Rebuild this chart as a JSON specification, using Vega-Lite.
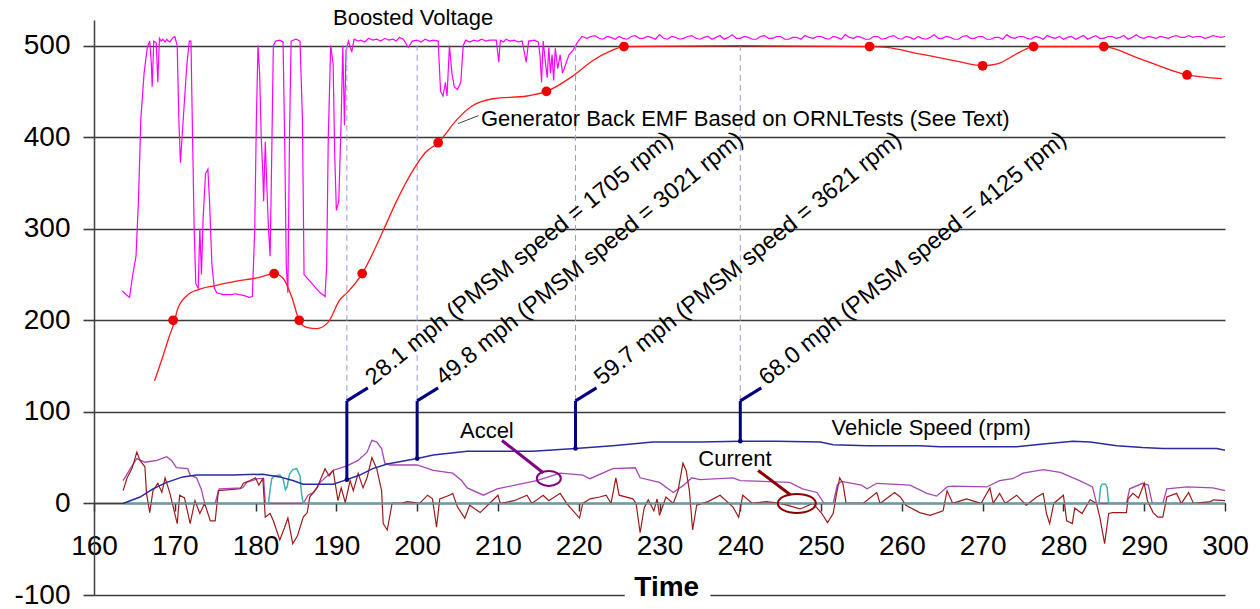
{
  "$schema": "https://vega.github.io/schema/vega-lite/v6.json",
  "width": 1131,
  "height": 575,
  "autosize": {"type": "none"},
  "padding": {"left": 94, "top": 20, "right": 35, "bottom": 14},
  "background": "white",
  "config": {"view": {"stroke": null}, "font": "Liberation Sans", "text": {"font": "Liberation Sans", "color": "black"}},
  "datasets": {
    "one": [{}],
    "bv": [
      {"t":163.5,"v":232},{"t":164.0,"v":228},{"t":164.4,"v":225},{"t":164.8,"v":250},{"t":165.2,"v":270},{"t":165.5,"v":330},{"t":165.8,"v":420},{"t":166.2,"v":470},{"t":166.6,"v":498},{"t":166.9,"v":505},{"t":167.1,"v":480},{"t":167.2,"v":455},{"t":167.4,"v":505},{"t":167.7,"v":503},{"t":167.9,"v":460},{"t":168.1,"v":508},{"t":168.3,"v":505},{"t":168.5,"v":507},{"t":168.8,"v":504},{"t":169.0,"v":507},{"t":169.2,"v":505},{"t":169.4,"v":504},{"t":169.7,"v":508},{"t":170.0,"v":510},{"t":170.3,"v":500},{"t":170.5,"v":420},{"t":170.7,"v":372},{"t":170.9,"v":400},{"t":171.2,"v":440},{"t":171.5,"v":480},{"t":171.8,"v":505},{"t":172.0,"v":505},{"t":172.2,"v":400},{"t":172.4,"v":300},{"t":172.6,"v":240},{"t":172.9,"v":235},{"t":173.1,"v":300},{"t":173.3,"v":250},{"t":173.5,"v":310},{"t":173.8,"v":360},{"t":174.1,"v":365},{"t":174.3,"v":330},{"t":174.6,"v":260},{"t":174.9,"v":235},{"t":175.2,"v":230},{"t":176.0,"v":228},{"t":177.0,"v":228},{"t":177.5,"v":229},{"t":178.0,"v":228},{"t":178.6,"v":227},{"t":179.2,"v":225},{"t":179.6,"v":226},{"t":179.9,"v":300},{"t":180.1,"v":420},{"t":180.3,"v":500},{"t":180.5,"v":470},{"t":180.7,"v":400},{"t":180.9,"v":360},{"t":181.0,"v":330},{"t":181.2,"v":395},{"t":181.4,"v":345},{"t":181.6,"v":300},{"t":181.8,"v":270},{"t":182.0,"v":380},{"t":182.2,"v":500},{"t":182.5,"v":505},{"t":183.0,"v":506},{"t":183.4,"v":504},{"t":183.6,"v":400},{"t":183.8,"v":260},{"t":184.0,"v":230},{"t":184.2,"v":400},{"t":184.4,"v":505},{"t":185.0,"v":507},{"t":185.5,"v":505},{"t":185.8,"v":420},{"t":186.0,"v":250},{"t":186.5,"v":245},{"t":187.0,"v":240},{"t":187.5,"v":235},{"t":188.0,"v":230},{"t":188.6,"v":226},{"t":188.8,"v":260},{"t":189.0,"v":400},{"t":189.3,"v":500},{"t":189.6,"v":480},{"t":189.8,"v":380},{"t":190.0,"v":320},{"t":190.3,"v":330},{"t":190.6,"v":420},{"t":190.8,"v":500},{"t":191.0,"v":413},{"t":191.2,"v":495},{"t":191.5,"v":505},{"t":191.9,"v":493},{"t":192.2,"v":507},{"t":192.7,"v":505},{"t":193,"v":506},{"t":193.5,"v":504},{"t":194,"v":508},{"t":194.5,"v":506},{"t":195,"v":507},{"t":195.5,"v":505},{"t":196,"v":508},{"t":196.5,"v":506},{"t":197,"v":507},{"t":197.4,"v":505},{"t":197.8,"v":509},{"t":198.3,"v":507},{"t":198.9,"v":498},{"t":199.4,"v":505},{"t":200,"v":506},{"t":200.5,"v":504},{"t":201,"v":507},{"t":201.5,"v":505},{"t":202,"v":506},{"t":202.6,"v":505},{"t":202.9,"v":450},{"t":203.2,"v":445},{"t":203.5,"v":460},{"t":203.7,"v":445},{"t":204.0,"v":500},{"t":204.3,"v":470},{"t":204.6,"v":455},{"t":205.0,"v":452},{"t":205.4,"v":460},{"t":205.7,"v":500},{"t":206,"v":506},{"t":206.5,"v":504},{"t":207,"v":506},{"t":207.5,"v":505},{"t":208,"v":507},{"t":208.5,"v":505},{"t":209,"v":506},{"t":209.8,"v":506},{"t":210.1,"v":482},{"t":210.3,"v":506},{"t":210.7,"v":504},{"t":211,"v":507},{"t":211.5,"v":505},{"t":212,"v":506},{"t":212.5,"v":504},{"t":213,"v":505},{"t":213.5,"v":482},{"t":213.8,"v":505},{"t":214.5,"v":506},{"t":215.0,"v":504},{"t":215.2,"v":490},{"t":215.4,"v":460},{"t":215.6,"v":505},{"t":215.9,"v":480},{"t":216.1,"v":465},{"t":216.3,"v":498},{"t":216.5,"v":470},{"t":216.7,"v":490},{"t":216.9,"v":462},{"t":217.1,"v":497},{"t":217.4,"v":475},{"t":217.7,"v":490},{"t":218.0,"v":470},{"t":218.4,"v":480},{"t":218.8,"v":490},{"t":219.3,"v":495},{"t":219.8,"v":503},{"t":220.4,"v":510},
      {"t":221,"v":508},{"t":221.5,"v":510},{"t":222,"v":511},{"t":222.5,"v":508},{"t":223,"v":507},{"t":223.5,"v":510},{"t":224,"v":509},{"t":224.5,"v":507},{"t":225,"v":510},{"t":225.5,"v":508},{"t":226,"v":507},{"t":226.5,"v":510},{"t":227,"v":511},{"t":227.5,"v":508},{"t":228,"v":508},{"t":228.5,"v":510},{"t":229,"v":509},{"t":229.5,"v":507},{"t":230,"v":512},{"t":230.5,"v":508},{"t":231,"v":507},{"t":231.5,"v":510},{"t":232,"v":509},{"t":232.5,"v":507},{"t":233,"v":508},{"t":233.5,"v":510},{"t":234,"v":511},{"t":234.5,"v":508},{"t":235,"v":507},{"t":235.5,"v":509},{"t":236,"v":510},{"t":236.5,"v":507},{"t":237,"v":509},{"t":237.5,"v":511},{"t":238,"v":507},{"t":238.5,"v":509},{"t":239,"v":512},{"t":239.5,"v":508},{"t":240,"v":508},{"t":240.5,"v":510},{"t":241,"v":509},{"t":241.5,"v":507},{"t":242,"v":507},{"t":242.5,"v":510},{"t":243,"v":511},{"t":243.5,"v":508},{"t":244,"v":508},{"t":244.5,"v":510},{"t":245,"v":510},{"t":245.5,"v":507},{"t":246,"v":507},{"t":246.5,"v":509},{"t":247,"v":509},{"t":247.5,"v":507},{"t":248,"v":511},{"t":248.5,"v":509},{"t":249,"v":508},{"t":249.5,"v":510},{"t":250,"v":510},{"t":250.5,"v":508},{"t":251,"v":507},{"t":251.5,"v":510},{"t":252,"v":509},{"t":252.5,"v":507},{"t":253,"v":512},{"t":253.5,"v":509},{"t":254,"v":508},{"t":254.5,"v":510},{"t":255,"v":509},{"t":255.5,"v":507},{"t":256,"v":507},{"t":256.5,"v":510},{"t":257,"v":510},{"t":257.5,"v":507},{"t":258,"v":508},{"t":258.5,"v":510},{"t":259,"v":511},{"t":259.5,"v":508},{"t":260,"v":507},{"t":260.5,"v":510},{"t":261,"v":509},{"t":261.5,"v":507},{"t":262,"v":510},{"t":262.5,"v":508},{"t":263,"v":507},{"t":263.5,"v":509},{"t":264,"v":512},{"t":264.5,"v":508},{"t":265,"v":508},{"t":265.5,"v":510},{"t":266,"v":509},{"t":266.5,"v":507},{"t":267,"v":507},{"t":267.5,"v":510},{"t":268,"v":511},{"t":268.5,"v":508},{"t":269,"v":508},{"t":269.5,"v":510},{"t":270,"v":510},{"t":270.5,"v":507},{"t":271,"v":507},{"t":271.5,"v":509},{"t":272,"v":509},{"t":272.5,"v":507},{"t":273,"v":512},{"t":273.5,"v":509},{"t":274,"v":508},{"t":274.5,"v":510},{"t":275,"v":510},{"t":275.5,"v":508},{"t":276,"v":507},{"t":276.5,"v":510},{"t":277,"v":509},{"t":277.5,"v":507},{"t":278,"v":511},{"t":278.5,"v":509},{"t":279,"v":508},{"t":279.5,"v":510},{"t":280,"v":507},{"t":280.5,"v":509},{"t":281,"v":510},{"t":281.5,"v":507},{"t":282,"v":509},{"t":282.5,"v":511},{"t":283,"v":507},{"t":283.5,"v":509},{"t":284,"v":511},{"t":284.5,"v":508},{"t":285,"v":508},{"t":285.5,"v":510},{"t":286,"v":510},{"t":286.5,"v":508},{"t":287,"v":509},{"t":287.5,"v":511},{"t":288,"v":507},{"t":288.5,"v":509},{"t":289,"v":512},{"t":289.5,"v":509},{"t":290,"v":508},{"t":290.5,"v":510},{"t":291,"v":509},{"t":291.5,"v":508},{"t":292,"v":510},{"t":292.5,"v":509},{"t":293,"v":508},{"t":293.5,"v":510},{"t":294,"v":511},{"t":294.5,"v":509},{"t":295,"v":509},{"t":295.5,"v":511},{"t":296,"v":509},{"t":296.5,"v":510},{"t":297,"v":510},{"t":297.5,"v":508},{"t":298,"v":509},{"t":298.5,"v":511},{"t":299,"v":510},{"t":299.5,"v":509},{"t":300,"v":510}
    ],
    "emf": [
      {"t":167.5,"v":134},{"t":168.5,"v":160},{"t":169.3,"v":182},{"t":170,"v":200},{"t":170.3,"v":211},{"t":171.5,"v":227},{"t":173.1,"v":234},{"t":175,"v":238},{"t":177.2,"v":242},{"t":180.5,"v":247},{"t":182.3,"v":251},{"t":183.3,"v":247},{"t":184.5,"v":225},{"t":185.4,"v":200},{"t":186.4,"v":192},{"t":187.6,"v":191},{"t":189,"v":198},{"t":190.4,"v":222},{"t":191.3,"v":230},{"t":193.2,"v":251},{"t":194.5,"v":273},{"t":195.8,"v":298},{"t":197.5,"v":331},{"t":199.5,"v":364},{"t":201,"v":383},{"t":202.6,"v":394},{"t":205,"v":420},{"t":206.8,"v":434},{"t":209.4,"v":442},{"t":213.6,"v":445},{"t":216,"v":450},{"t":219.3,"v":467},{"t":221.8,"v":484},{"t":223.9,"v":494},{"t":225.6,"v":499},{"t":240,"v":500},{"t":256,"v":499},{"t":258.1,"v":498},{"t":262.2,"v":491},{"t":266.3,"v":484},{"t":270,"v":478},{"t":271.8,"v":480},{"t":274.6,"v":493},{"t":276.3,"v":499},{"t":285,"v":499},{"t":289.1,"v":487},{"t":295.3,"v":468},{"t":299.6,"v":464}
    ],
    "emfDots": [
      {"t":169.8,"v":200},{"t":182.3,"v":251},{"t":185.4,"v":200},{"t":193.2,"v":251},{"t":202.6,"v":394},{"t":216,"v":450},{"t":225.6,"v":499},{"t":256,"v":499},{"t":270,"v":478},{"t":276.3,"v":499},{"t":285,"v":499},{"t":295.3,"v":468}
    ],
    "speed": [
      {"t":163.6,"v":0},{"t":165.7,"v":7},{"t":167.3,"v":16},{"t":169,"v":23},{"t":171,"v":29},{"t":172.7,"v":31},{"t":177.2,"v":31},{"t":180.9,"v":32},{"t":183,"v":29},{"t":184.6,"v":25},{"t":185.9,"v":21},{"t":189.6,"v":21},{"t":191.3,"v":26},{"t":192.9,"v":31},{"t":194.5,"v":38},{"t":196.3,"v":43},{"t":200,"v":49},{"t":202,"v":53},{"t":206.2,"v":57},{"t":210.2,"v":57},{"t":214.3,"v":57},{"t":219.6,"v":60},{"t":224.2,"v":63},{"t":229.2,"v":67},{"t":235,"v":67},{"t":240,"v":68},{"t":244.5,"v":68},{"t":249.9,"v":67},{"t":251.5,"v":64},{"t":255.7,"v":63},{"t":262.2,"v":63},{"t":264.7,"v":62},{"t":274.2,"v":62},{"t":277.5,"v":65},{"t":281.2,"v":68},{"t":283.3,"v":67},{"t":286.6,"v":63},{"t":289.8,"v":61},{"t":292.3,"v":60},{"t":299,"v":60},{"t":300,"v":58}
    ],
    "accel": [
      {"t":163.6,"v":25},{"t":164.5,"v":38},{"t":165.3,"v":49},{"t":166.3,"v":45},{"t":167.8,"v":47},{"t":169,"v":51},{"t":169.6,"v":47},{"t":170.2,"v":39},{"t":171.6,"v":38},{"t":171.9,"v":31},{"t":172.7,"v":28},{"t":173.3,"v":15},{"t":173.7,"v":0},{"t":175,"v":0},{"t":175.3,"v":10},{"t":175.5,"v":16},{"t":178.4,"v":17},{"t":178.9,"v":23},{"t":180.3,"v":27},{"t":181,"v":27},{"t":181.2,"v":0},{"t":185.9,"v":0},{"t":186.5,"v":9},{"t":187.2,"v":12},{"t":188,"v":23},{"t":189.6,"v":36},{"t":191.3,"v":41},{"t":192.7,"v":47},{"t":193.8,"v":56},{"t":194.4,"v":69},{"t":195,"v":67},{"t":195.6,"v":60},{"t":196,"v":44},{"t":196.6,"v":42},{"t":200,"v":42},{"t":202,"v":36},{"t":204.4,"v":33},{"t":205.5,"v":25},{"t":206.2,"v":17},{"t":208.2,"v":9},{"t":209.9,"v":16},{"t":212.7,"v":21},{"t":214.8,"v":25},{"t":217.7,"v":33},{"t":220.5,"v":31},{"t":221.4,"v":27},{"t":224.2,"v":38},{"t":227,"v":39},{"t":227.6,"v":28},{"t":230,"v":23},{"t":231.7,"v":12},{"t":233,"v":20},{"t":234,"v":28},{"t":235,"v":26},{"t":239.1,"v":28},{"t":240,"v":25},{"t":246.1,"v":23},{"t":247.7,"v":16},{"t":249.5,"v":12},{"t":250.3,"v":1},{"t":250.5,"v":0},{"t":251.5,"v":0},{"t":252,"v":20},{"t":252.5,"v":24},{"t":255,"v":20},{"t":255.7,"v":16},{"t":256.9,"v":22},{"t":261,"v":20},{"t":263.1,"v":11},{"t":264.3,"v":8},{"t":265.6,"v":18},{"t":266.3,"v":19},{"t":270.5,"v":18},{"t":272.1,"v":25},{"t":273.7,"v":27},{"t":275,"v":33},{"t":277.5,"v":37},{"t":279.6,"v":34},{"t":282,"v":25},{"t":283.6,"v":18},{"t":284.1,"v":0},{"t":287.8,"v":0},{"t":288.2,"v":16},{"t":289.8,"v":22},{"t":290.5,"v":20},{"t":291,"v":0},{"t":292.3,"v":0},{"t":292.8,"v":16},{"t":295.3,"v":18},{"t":298.5,"v":17},{"t":300,"v":14}
    ],
    "current": [
      {"t":163.6,"v":14},{"t":164.1,"v":28},{"t":164.7,"v":38},{"t":165.3,"v":56},{"t":165.7,"v":47},{"t":166.3,"v":40},{"t":166.5,"v":11},{"t":166.9,"v":-10},{"t":167.3,"v":14},{"t":167.9,"v":22},{"t":168.4,"v":12},{"t":168.8,"v":28},{"t":169.4,"v":11},{"t":170.3,"v":-22},{"t":170.6,"v":9},{"t":171.2,"v":6},{"t":171.9,"v":-22},{"t":172.5,"v":3},{"t":173.1,"v":-11},{"t":173.7,"v":0},{"t":174.4,"v":-19},{"t":175,"v":-19},{"t":175.4,"v":14},{"t":178.1,"v":16},{"t":178.5,"v":22},{"t":179.3,"v":25},{"t":180,"v":28},{"t":180.4,"v":20},{"t":180.9,"v":27},{"t":181.2,"v":-15},{"t":181.8,"v":-11},{"t":182.2,"v":-19},{"t":183,"v":-40},{"t":183.6,"v":-26},{"t":184,"v":-16},{"t":184.6,"v":-44},{"t":185.2,"v":-35},{"t":185.9,"v":-15},{"t":186.4,"v":-10},{"t":186.7,"v":7},{"t":187.6,"v":17},{"t":188.6,"v":38},{"t":189.1,"v":30},{"t":189.6,"v":36},{"t":190.2,"v":3},{"t":190.6,"v":17},{"t":191.1,"v":1},{"t":191.7,"v":25},{"t":192.1,"v":14},{"t":192.7,"v":33},{"t":193.3,"v":17},{"t":193.8,"v":28},{"t":194.4,"v":50},{"t":195,"v":38},{"t":195.6,"v":14},{"t":195.8,"v":-22},{"t":196.3,"v":-29},{"t":196.9,"v":0},{"t":198,"v":0},{"t":198.8,"v":2},{"t":200.3,"v":0},{"t":201.3,"v":9},{"t":201.9,"v":5},{"t":202.4,"v":-26},{"t":202.8,"v":5},{"t":204,"v":9},{"t":204.4,"v":11},{"t":205,"v":-4},{"t":205.9,"v":-16},{"t":206.5,"v":-2},{"t":207.8,"v":-10},{"t":210,"v":9},{"t":210.3,"v":0},{"t":212,"v":3},{"t":213.6,"v":9},{"t":214.2,"v":0},{"t":215.6,"v":9},{"t":216.3,"v":3},{"t":217.7,"v":11},{"t":218.5,"v":0},{"t":220.1,"v":-16},{"t":220.5,"v":0},{"t":221.4,"v":5},{"t":222.6,"v":7},{"t":223.4,"v":9},{"t":224,"v":0},{"t":224.6,"v":28},{"t":225,"v":9},{"t":226.7,"v":5},{"t":227.1,"v":0},{"t":227.6,"v":-32},{"t":228.1,"v":-5},{"t":228.6,"v":4},{"t":229.3,"v":-8},{"t":229.7,"v":5},{"t":230,"v":-13},{"t":230.8,"v":7},{"t":231.7,"v":0},{"t":232.3,"v":14},{"t":232.9,"v":44},{"t":233.3,"v":36},{"t":233.7,"v":14},{"t":234.1,"v":-29},{"t":234.6,"v":-2},{"t":236,"v":2},{"t":237.5,"v":9},{"t":239.1,"v":-4},{"t":239.8,"v":-15},{"t":240.3,"v":9},{"t":241.5,"v":0},{"t":243.2,"v":2},{"t":245,"v":0},{"t":247.4,"v":-6},{"t":249,"v":0},{"t":250.1,"v":-11},{"t":250.8,"v":-21},{"t":251.5,"v":-11},{"t":251.9,"v":10},{"t":252.3,"v":28},{"t":252.7,"v":22},{"t":253.1,"v":0},{"t":255.2,"v":0},{"t":256.9,"v":12},{"t":257.3,"v":0},{"t":259.1,"v":12},{"t":259.8,"v":7},{"t":260.5,"v":-2},{"t":262.2,"v":-10},{"t":263.5,"v":-13},{"t":265.1,"v":-8},{"t":265.6,"v":14},{"t":266.3,"v":0},{"t":268,"v":5},{"t":269.8,"v":0},{"t":270.9,"v":17},{"t":271.3,"v":0},{"t":272.1,"v":11},{"t":272.8,"v":0},{"t":274.2,"v":9},{"t":275.4,"v":-2},{"t":276.7,"v":7},{"t":277.5,"v":11},{"t":277.9,"v":-11},{"t":278.3,"v":-22},{"t":278.8,"v":0},{"t":280,"v":9},{"t":280.4,"v":-19},{"t":281.1,"v":-22},{"t":281.4,"v":-5},{"t":282.3,"v":-11},{"t":283.3,"v":4},{"t":284.1,"v":0},{"t":284.5,"v":-15},{"t":285.1,"v":-44},{"t":285.6,"v":-11},{"t":286.1,"v":-10},{"t":287.8,"v":-10},{"t":288,"v":5},{"t":288.6,"v":11},{"t":289.3,"v":6},{"t":290,"v":22},{"t":290.4,"v":3},{"t":291.1,"v":-10},{"t":291.7,"v":-15},{"t":292.3,"v":-15},{"t":292.8,"v":7},{"t":294,"v":11},{"t":294.6,"v":0},{"t":295.5,"v":12},{"t":296.1,"v":0},{"t":298.2,"v":2},{"t":298.6,"v":4},{"t":300,"v":3}
    ],
    "brake": [
      {"t":163.6,"v":0},{"t":181.6,"v":0},{"t":181.8,"v":15},{"t":182.0,"v":27},{"t":182.3,"v":30},{"t":183,"v":31},{"t":183.4,"v":27},{"t":183.7,"v":15},{"t":183.9,"v":18},{"t":184.2,"v":32},{"t":184.6,"v":37},{"t":185.1,"v":38},{"t":185.5,"v":30},{"t":185.7,"v":10},{"t":185.9,"v":0},{"t":284.4,"v":0},{"t":284.6,"v":18},{"t":284.8,"v":21},{"t":285.2,"v":21},{"t":285.4,"v":18},{"t":285.6,"v":0},{"t":300,"v":0}
    ],
    "markers": [
      {"t":191.3,"speed":26,"label":"28.1 mph (PMSM speed = 1705 rpm)"},
      {"t":200,"speed":49,"label":"49.8 mph (PMSM speed = 3021 rpm)"},
      {"t":219.6,"speed":60,"label":"59.7 mph (PMSM speed = 3621 rpm)"},
      {"t":240,"speed":68,"label":"68.0 mph (PMSM speed = 4125 rpm)"}
    ]
  },
  "layer": [
    {
      "data": {"name": "bv"},
      "mark": {"type": "line", "color": "#ff00ff", "strokeWidth": 1.2},
      "encoding": {
        "x": {"field": "t", "type": "quantitative", "scale": {"domain": [160, 300], "nice": false, "zero": false},
          "axis": {"title": null, "values": [160,170,180,190,200,210,220,230,240,250,260,270,280,290,300], "offset": -92, "grid": false, "domainColor": "#404040", "domainWidth": 1.5, "tickColor": "#333333", "tickSize": 8, "tickWidth": 1.5, "labelFontSize": 28, "labelFont": "Liberation Sans", "labelColor": "black", "labelPadding": 21, "labelFlush": false, "labelOverlap": false}},
        "y": {"field": "v", "type": "quantitative", "scale": {"domain": [-100, 528], "nice": false, "zero": false},
          "axis": {"title": null, "values": [-100,0,100,200,300,400,500], "labelExpr": "'' + datum.value", "grid": true, "gridColor": "#3a3a3a", "gridWidth": 1.6, "domainColor": "#404040", "domainWidth": 1.5, "tickColor": "#3a3a3a", "tickSize": 11, "tickWidth": 1.6, "labelFontSize": 28, "labelFont": "Liberation Sans", "labelColor": "black", "labelPadding": 13, "labelFlush": false, "labelOverlap": false}}
      }
    },
    {
      "data": {"name": "markers"},
      "mark": {"type": "rule", "color": "#9a9ae0", "strokeWidth": 1, "strokeDash": [6, 4]},
      "encoding": {
        "x": {"field": "t", "type": "quantitative", "scale": {"domain": [160, 300], "nice": false, "zero": false}},
        "y": {"datum": 112, "scale": {"domain": [-100, 528], "nice": false, "zero": false}},
        "y2": {"datum": 500}
      }
    },
    {
      "data": {"name": "emf"},
      "mark": {"type": "line", "color": "#ff1a1a", "strokeWidth": 1.3, "interpolate": "monotone"},
      "encoding": {
        "x": {"field": "t", "type": "quantitative", "scale": {"domain": [160, 300], "nice": false, "zero": false}},
        "y": {"field": "v", "type": "quantitative", "scale": {"domain": [-100, 528], "nice": false, "zero": false}}
      }
    },
    {
      "data": {"name": "emfDots"},
      "mark": {"type": "point", "filled": true, "color": "#ee0000", "size": 95, "opacity": 1},
      "encoding": {
        "x": {"field": "t", "type": "quantitative", "scale": {"domain": [160, 300], "nice": false, "zero": false}},
        "y": {"field": "v", "type": "quantitative", "scale": {"domain": [-100, 528], "nice": false, "zero": false}}
      }
    },
    {
      "data": {"name": "accel"},
      "mark": {"type": "line", "color": "#a548b5", "strokeWidth": 1.3},
      "encoding": {
        "x": {"field": "t", "type": "quantitative", "scale": {"domain": [160, 300], "nice": false, "zero": false}},
        "y": {"field": "v", "type": "quantitative", "scale": {"domain": [-100, 528], "nice": false, "zero": false}}
      }
    },
    {
      "data": {"name": "current"},
      "mark": {"type": "line", "color": "#9b1c1c", "strokeWidth": 1.2},
      "encoding": {
        "x": {"field": "t", "type": "quantitative", "scale": {"domain": [160, 300], "nice": false, "zero": false}},
        "y": {"field": "v", "type": "quantitative", "scale": {"domain": [-100, 528], "nice": false, "zero": false}}
      }
    },
    {
      "data": {"name": "brake"},
      "mark": {"type": "line", "color": "#40b0b0", "strokeWidth": 1.5},
      "encoding": {
        "x": {"field": "t", "type": "quantitative", "scale": {"domain": [160, 300], "nice": false, "zero": false}},
        "y": {"field": "v", "type": "quantitative", "scale": {"domain": [-100, 528], "nice": false, "zero": false}}
      }
    },
    {
      "data": {"name": "speed"},
      "mark": {"type": "line", "color": "#2b2ba0", "strokeWidth": 1.5},
      "encoding": {
        "x": {"field": "t", "type": "quantitative", "scale": {"domain": [160, 300], "nice": false, "zero": false}},
        "y": {"field": "v", "type": "quantitative", "scale": {"domain": [-100, 528], "nice": false, "zero": false}}
      }
    },
    {
      "data": {"name": "markers"},
      "mark": {"type": "rule", "color": "#000080", "strokeWidth": 3},
      "encoding": {
        "x": {"field": "t", "type": "quantitative", "scale": {"domain": [160, 300], "nice": false, "zero": false}},
        "y": {"field": "speed", "type": "quantitative", "scale": {"domain": [-100, 528], "nice": false, "zero": false}},
        "y2": {"datum": 112}
      }
    },
    {
      "data": {"name": "markers"},
      "mark": {"type": "point", "filled": true, "color": "#000080", "size": 22, "opacity": 1},
      "encoding": {
        "x": {"field": "t", "type": "quantitative", "scale": {"domain": [160, 300], "nice": false, "zero": false}},
        "y": {"field": "speed", "type": "quantitative", "scale": {"domain": [-100, 528], "nice": false, "zero": false}}
      }
    },
    {
      "data": {"name": "markers"},
      "mark": {"type": "point", "filled": false, "shape": "M 0 0 L 1 -0.62", "color": "#000080", "strokeWidth": 3, "size": 1764, "opacity": 1},
      "encoding": {
        "x": {"field": "t", "type": "quantitative", "scale": {"domain": [160, 300], "nice": false, "zero": false}},
        "y": {"datum": 112, "scale": {"domain": [-100, 528], "nice": false, "zero": false}}
      }
    },
    {
      "data": {"name": "markers"},
      "mark": {"type": "text", "angle": -39, "align": "left", "baseline": "alphabetic", "fontSize": 23.5, "dx": 30, "dy": 5, "color": "black"},
      "encoding": {
        "x": {"field": "t", "type": "quantitative", "scale": {"domain": [160, 300], "nice": false, "zero": false}},
        "y": {"datum": 112, "scale": {"domain": [-100, 528], "nice": false, "zero": false}},
        "text": {"field": "label"}
      }
    },
    {
      "data": {"name": "one"},
      "mark": {"type": "rule", "color": "#404040", "strokeWidth": 1},
      "encoding": {"x": {"datum": 205.05}, "x2": {"datum": 207.6}, "y": {"datum": 414.8}, "y2": {"datum": 423.6}}
    },
    {
      "data": {"name": "one"},
      "mark": {"type": "rule", "color": "#800080", "strokeWidth": 3},
      "encoding": {"x": {"datum": 210.5}, "x2": {"datum": 215.6}, "y": {"datum": 68.8}, "y2": {"datum": 33.5}}
    },
    {
      "data": {"name": "one"},
      "mark": {"type": "point", "filled": false, "shape": "M -1 0 A 1 0.62 0 1 1 1 0 A 1 0.62 0 1 1 -1 0 Z", "color": "#800080", "strokeWidth": 2, "size": 576, "opacity": 1},
      "encoding": {"x": {"datum": 216.3}, "y": {"datum": 27.3}}
    },
    {
      "data": {"name": "one"},
      "mark": {"type": "rule", "color": "#8b0000", "strokeWidth": 3},
      "encoding": {"x": {"datum": 242.2}, "x2": {"datum": 246.2}, "y": {"datum": 36}, "y2": {"datum": 9.5}}
    },
    {
      "data": {"name": "one"},
      "mark": {"type": "point", "filled": false, "shape": "M -1 0 A 1 0.5 0 1 1 1 0 A 1 0.5 0 1 1 -1 0 Z", "color": "#8b0000", "strokeWidth": 2, "size": 1444, "opacity": 1},
      "encoding": {"x": {"datum": 247}, "y": {"datum": 0}}
    },
    {
      "data": {"name": "one"},
      "mark": {"type": "text", "fontSize": 22, "align": "center", "baseline": "middle", "text": "Boosted Voltage", "color": "black", "dy": -2},
      "encoding": {"x": {"datum": 199.5}, "y": {"datum": 528}}
    },
    {
      "data": {"name": "one"},
      "mark": {"type": "text", "fontSize": 22, "align": "left", "baseline": "middle", "text": "Generator Back EMF Based on ORNLTests (See Text)", "color": "black"},
      "encoding": {"x": {"datum": 207.9}, "y": {"datum": 420.3}}
    },
    {
      "data": {"name": "one"},
      "mark": {"type": "text", "fontSize": 22, "align": "left", "baseline": "middle", "text": "Vehicle Speed (rpm)", "color": "black"},
      "encoding": {"x": {"datum": 251.3}, "y": {"datum": 82}}
    },
    {
      "data": {"name": "one"},
      "mark": {"type": "text", "fontSize": 22, "align": "left", "baseline": "middle", "text": "Accel", "color": "black"},
      "encoding": {"x": {"datum": 205.3}, "y": {"datum": 79.5}}
    },
    {
      "data": {"name": "one"},
      "mark": {"type": "text", "fontSize": 22, "align": "left", "baseline": "middle", "text": "Current", "color": "black"},
      "encoding": {"x": {"datum": 234.8}, "y": {"datum": 48.6}}
    },
    {
      "data": {"name": "one"},
      "mark": {"type": "rect", "color": "white", "opacity": 1},
      "encoding": {"x": {"datum": 225.7}, "x2": {"datum": 236.3}, "y": {"datum": -104}, "y2": {"datum": -96}}
    },
    {
      "data": {"name": "one"},
      "mark": {"type": "text", "fontSize": 28, "fontWeight": "bold", "align": "center", "baseline": "middle", "text": "Time", "color": "black"},
      "encoding": {"x": {"datum": 230.9}, "y": {"datum": -92.8}}
    }
  ]
}
